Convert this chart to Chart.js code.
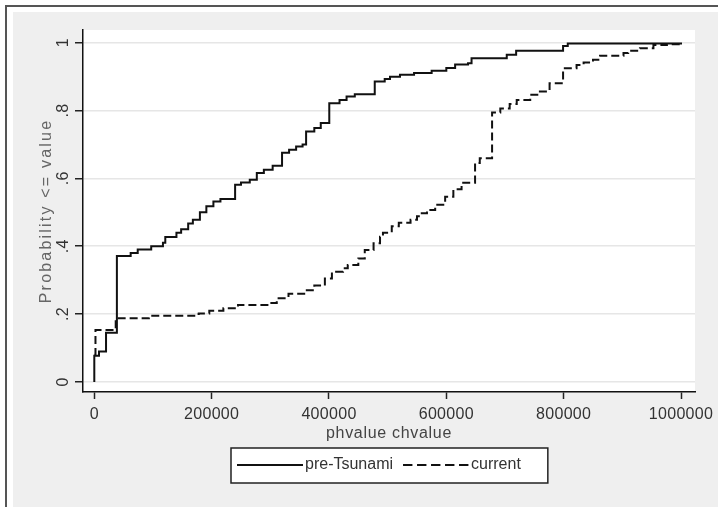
<!DOCTYPE html>
<html>
<head>
<meta charset="utf-8">
<title>phvalue chvalue</title>
<script src="https://cdn.jsdelivr.net/npm/chart.js@4.4.1/dist/chart.umd.min.js"></script>
<style>
  html, body { margin: 0; padding: 0; background: #fff; }
  #frame {
    position: absolute; left: 5px; top: 5px; width: 713px; height: 502px;
    border-top: 2px solid #555; border-left: 2px solid #555;
  }
  #wrap {
    position: absolute; left: 13px; top: 12px; width: 705px; height: 495px;
    background: #efefef;
  }
</style>
</head>
<body>
<div id="frame"></div>
<div id="wrap"><canvas id="cdfChart"></canvas></div>
<script>
// empirical distribution steps: value where the step happens, new cumulative level
const preX = [0, 0, 8000, 20000, 38500, 62000, 74000, 97000, 117000, 121000,
  140000, 148000, 160000, 168000, 180000, 191000, 203000, 215000, 240000, 250000,
  265000, 277000, 289000, 304000, 320000, 332000, 344000, 355000, 361000, 375000,
  386000, 400500, 418000, 430000, 444000, 478000, 495000, 504000, 521000, 545000,
  575000, 600000, 615000, 637000, 643000, 703000, 719000, 799000, 807000, 1000000];
const preY = [0, 0.077, 0.09, 0.145, 0.371, 0.38, 0.39, 0.40, 0.41, 0.427,
  0.44, 0.45, 0.467, 0.478, 0.50, 0.518, 0.532, 0.539, 0.581, 0.588,
  0.596, 0.616, 0.625, 0.637, 0.675, 0.684, 0.694, 0.70, 0.738, 0.748,
  0.763, 0.821, 0.831, 0.841, 0.848, 0.885, 0.893, 0.899, 0.905, 0.91,
  0.917, 0.925, 0.935, 0.939, 0.954, 0.964, 0.976, 0.99, 0.997, 1.0];

const curX = [0, 2000, 36500, 93000, 173000, 178000, 196000, 220000, 245000, 300000,
  311000, 331000, 360000, 375000, 393000, 405000, 424000, 432000, 450000, 461000,
  476000, 487000, 492000, 507000, 519000, 539000, 550000, 555000, 567000, 581000,
  598000, 612000, 626000, 649000, 657000, 678000, 692000, 708000, 720000, 743000,
  757000, 776000, 799000, 822000, 834000, 850000, 862000, 902000, 910000, 930000,
  953000, 976000, 1000000];
const curY = [0.08, 0.153, 0.188, 0.195, 0.20, 0.202, 0.21, 0.217, 0.227, 0.233,
  0.247, 0.26, 0.27, 0.284, 0.305, 0.325, 0.335, 0.345, 0.364, 0.389,
  0.409, 0.428, 0.44, 0.459, 0.469, 0.478, 0.488, 0.497, 0.507, 0.522,
  0.546, 0.568, 0.587, 0.645, 0.659, 0.794, 0.806, 0.819, 0.831, 0.846,
  0.856, 0.88, 0.924, 0.934, 0.941, 0.949, 0.961, 0.969, 0.976, 0.983,
  0.993, 0.995, 1.0];

const xTicks = [0, 200000, 400000, 600000, 800000, 1000000];
const xTickLabels = ['0', '200000', '400000', '600000', '800000', '1000000'];
const yTicks = [0, 0.2, 0.4, 0.6, 0.8, 1];
const yTickLabels = ['0', '.2', '.4', '.6', '.8', '1'];

const seriesLabels = ['pre-Tsunami', 'current'];

const FONT = "'Liberation Sans', Arial, sans-serif";
const TICK_SPACING = '0.3px';

Chart.defaults.font.family = FONT;
Chart.defaults.font.size = 16;

function toPoints(xs, ys) {
    return xs.map((x, i) => ({ x: x, y: ys[i] }));
}

// titles get their own letter spacing, ticks keep a slight one
function spaceTitle(scale, px) {
    if (scale._spaced) return;
    const draw = scale.drawTitle;
    scale.drawTitle = function () {
        this.ctx.letterSpacing = px;
        draw.call(this);
        this.ctx.letterSpacing = TICK_SPACING;
    };
    scale._spaced = true;
}

const plotBackground = {
    id: 'plotBackground',
    beforeDraw(chart) {
        const { ctx, chartArea: a } = chart;
        ctx.letterSpacing = TICK_SPACING;
        spaceTitle(chart.scales.x, '0.7px');
        spaceTitle(chart.scales.y, '2.2px');
        ctx.save();
        ctx.fillStyle = '#fff';
        ctx.fillRect(a.left, a.top, a.right - a.left, a.bottom - a.top);
        ctx.restore();
    }
};

// boxed legend under the axis title
const boxedLegend = {
    id: 'boxedLegend',
    afterDraw(chart) {
        const { ctx, chartArea } = chart;
        const sample = 66, gapText = 2, gapItem = 10, padL = 6, padR = 27, boxH = 35;
        ctx.save();
        ctx.letterSpacing = '0px';
        ctx.font = '16px ' + FONT;
        const items = chart.data.datasets.map(ds => ({ ds: ds, w: ctx.measureText(ds.label).width }));
        const inner = items.reduce((s, it) => s + sample + gapText + it.w, 0) + gapItem * (items.length - 1);
        const boxW = padL + inner + padR;
        const left = Math.round((chartArea.left + chartArea.right) / 2 - boxW / 2);
        const top = chartArea.bottom + 56;

        ctx.fillStyle = '#fff';
        ctx.fillRect(left, top, boxW, boxH);
        ctx.strokeStyle = '#222';
        ctx.lineWidth = 1.5;
        ctx.strokeRect(left, top, boxW, boxH);

        const cy = top + 17;
        let x = left + padL;
        items.forEach(({ ds, w }) => {
            ctx.beginPath();
            ctx.setLineDash(ds.borderDash && ds.borderDash.length ? [9.4, 4.6] : []);
            ctx.strokeStyle = ds.borderColor;
            ctx.lineWidth = ds.borderWidth;
            ctx.moveTo(x, cy);
            ctx.lineTo(x + sample, cy);
            ctx.stroke();
            ctx.setLineDash([]);
            x += sample + gapText;
            ctx.fillStyle = '#333';
            ctx.textBaseline = 'middle';
            ctx.textAlign = 'left';
            ctx.fillText(ds.label, x, cy);
            x += w + gapItem;
        });
        ctx.restore();
    }
};

const ctx = document.getElementById('cdfChart').getContext('2d');

const cdfChart = new Chart(ctx, {
    type: 'line',
    data: {
        datasets: [
            {
                label: seriesLabels[0],
                data: toPoints(preX, preY),
                borderColor: '#111',
                borderWidth: 2,
                stepped: 'before',
                pointRadius: 0,
                fill: false
            },
            {
                label: seriesLabels[1],
                data: toPoints(curX, curY),
                borderColor: '#111',
                borderWidth: 2,
                borderDash: [8, 4],
                stepped: 'before',
                pointRadius: 0,
                fill: false
            }
        ]
    },
    options: {
        responsive: true,
        maintainAspectRatio: false,
        animation: false,
        layout: {
            padding: { left: 0, top: 18, right: 23, bottom: 63 }
        },
        plugins: {
            legend: { display: false },
            tooltip: { enabled: false }
        },
        scales: {
            x: {
                type: 'linear',
                min: -19260,
                max: 1023860,
                afterBuildTicks: axis => { axis.ticks = xTicks.map(v => ({ value: v })); },
                afterFit: scale => {
                    scale.height = 52;
                    scale.paddingLeft = 0;
                    scale.paddingRight = 0;
                },
                grid: {
                    drawOnChartArea: false,
                    drawTicks: true,
                    tickLength: 7,
                    tickColor: '#222',
                    tickWidth: 1.5
                },
                border: { display: true, color: '#111', width: 1.5 },
                ticks: {
                    autoSkip: false,
                    minRotation: 0,
                    maxRotation: 0,
                    padding: 6,
                    color: '#333',
                    callback: (value, index) => xTickLabels[index]
                },
                title: {
                    display: true,
                    text: 'phvalue chvalue',
                    color: '#444',
                    padding: { top: 0, bottom: 1 }
                }
            },
            y: {
                type: 'linear',
                min: -0.0295,
                max: 1.037,
                afterBuildTicks: axis => { axis.ticks = yTicks.map(v => ({ value: v })); },
                afterFit: scale => {
                    scale.width = 70;
                    scale.paddingTop = 0;
                    scale.paddingBottom = 0;
                },
                grid: {
                    color: '#e6e6e6',
                    lineWidth: 1.5,
                    drawTicks: true,
                    tickLength: 8,
                    tickColor: '#222',
                    tickWidth: 1.5
                },
                border: { display: true, color: '#111', width: 1.5 },
                ticks: {
                    autoSkip: false,
                    minRotation: 90,
                    maxRotation: 90,
                    crossAlign: 'center',
                    padding: 5,
                    color: '#333',
                    callback: (value, index) => yTickLabels[index]
                },
                title: {
                    display: true,
                    text: 'Probability <= value',
                    color: '#666',
                    padding: { top: 24, bottom: 0 }
                }
            }
        }
    },
    plugins: [plotBackground, boxedLegend]
});
</script>
</body>
</html>
